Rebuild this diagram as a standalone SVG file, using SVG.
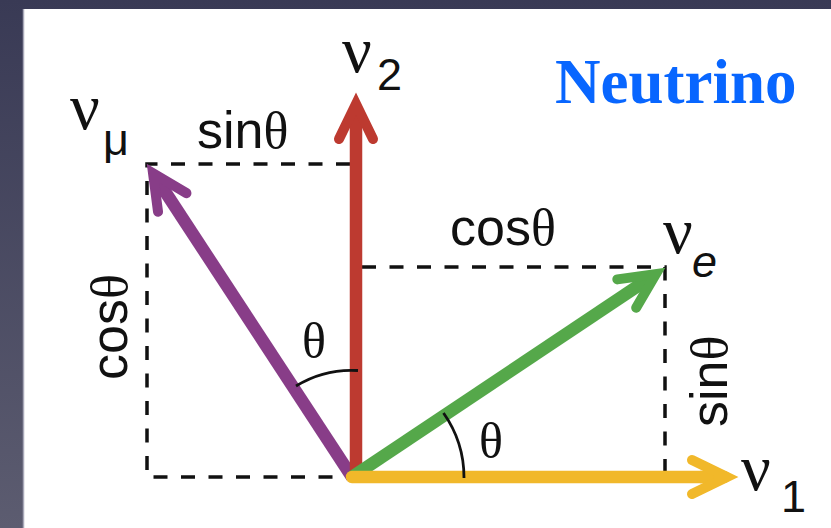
<svg xmlns="http://www.w3.org/2000/svg" width="831" height="528" viewBox="0 0 831 528">
  <defs>
    <linearGradient id="bg" x1="0" y1="0" x2="0" y2="1">
      <stop offset="0" stop-color="#393a55"/>
      <stop offset="1" stop-color="#5c5c70"/>
    </linearGradient>
    <path id="head" d="M-46,-17 L-11,0 L-46,17" fill="none" stroke-width="10" stroke-linecap="round" stroke-linejoin="miter" stroke-miterlimit="10"/>
    <style>
      .dash { fill: none; stroke: #111; stroke-width: 3.5; stroke-dasharray: 14 13.5; }
      .arc { fill: none; stroke: #111; stroke-width: 2.8; }
      .shaft { fill: none; stroke-width: 12.5; }
      .lbl { font-family: "Liberation Sans", Arial, sans-serif; font-size: 52px; fill: #111; }
      .gr { font-family: "Liberation Serif", "Times New Roman", serif; }
      .nu { font-family: "Liberation Serif", "Times New Roman", serif; font-size: 66px; fill: #111; }
      .sub { font-family: "Liberation Sans", Arial, sans-serif; font-size: 45px; fill: #111; }
      .th { font-family: "Liberation Serif", "Times New Roman", serif; font-size: 50px; fill: #111; }
    </style>
  </defs>

  <rect x="0" y="0" width="831" height="528" fill="url(#bg)"/>
  <rect x="23" y="9" width="808" height="519" fill="#ffffff"/>
  <line x1="23.5" y1="9" x2="23.5" y2="528" stroke="#a8a8b8" stroke-width="1.5"/>

  <g id="connectors">
    <path class="dash" d="M350,164 L147,164 L147,477 L350,477"/>
    <path class="dash" d="M362,267 L665,267 L665,477"/>
  </g>

  <g id="nu-mu-vector" stroke="#883d88" fill="none">
    <line class="shaft" x1="352" y1="477" x2="155.2" y2="176.5"/>
    <use href="#head" transform="translate(147,164) rotate(-123.3)"/>
  </g>
  <g id="nu2-vector" stroke="#bd3a30" fill="none">
    <line class="shaft" x1="356" y1="477" x2="356" y2="107"/>
    <use href="#head" transform="translate(356,93) rotate(-90)"/>
  </g>
  <g id="nue-vector" stroke="#55a84a" fill="none">
    <line class="shaft" x1="352" y1="477" x2="652.5" y2="276.3"/>
    <use href="#head" transform="translate(665,268) rotate(-33.7)"/>
  </g>
  <g id="nu1-vector" stroke="#f1b82a" fill="none">
    <line class="shaft" x1="352" y1="477" x2="724" y2="477" stroke-linecap="round"/>
    <line class="shaft" x1="700" y1="477" x2="724" y2="477"/>
    <use href="#head" transform="translate(738,477)"/>
  </g>

  <g id="angles">
    <path class="arc" d="M358,370.5 A106,106 0 0,0 296,386"/>
    <path class="arc" d="M443.5,413 A112,112 0 0,1 464,478"/>
    <text class="th" x="314" y="358" text-anchor="middle">θ</text>
    <text class="th" x="491" y="458" text-anchor="middle">θ</text>
  </g>

  <g id="labels">
    <text class="lbl" x="197" y="148">sin<tspan class="gr">θ</tspan></text>
    <text class="lbl" x="450" y="245">cos<tspan class="gr">θ</tspan></text>
    <text class="lbl" transform="translate(127,380) rotate(-90)">cos<tspan class="gr">θ</tspan></text>
    <text class="lbl" transform="translate(727,427) rotate(-90)">sin<tspan class="gr">θ</tspan></text>
  </g>

  <g id="nu2-label">
    <text class="nu" x="342" y="72">ν</text>
    <text class="sub" x="377" y="90">2</text>
  </g>
  <g id="numu-label">
    <text class="nu" x="70" y="129">ν</text>
    <text class="sub gr" x="103" y="155">μ</text>
  </g>
  <g id="nue-label">
    <text class="nu" x="663" y="253">ν</text>
    <text class="sub" x="692" y="277" font-style="italic" font-size="50">e</text>
  </g>
  <g id="nu1-label">
    <text class="nu" x="741" y="490">ν</text>
    <text class="sub" x="781" y="512">1</text>
  </g>

  <g id="title">
    <text x="555" y="103" font-family="'Liberation Serif', 'Times New Roman', serif" font-weight="bold" font-size="63" fill="#0866ff">Neutrino</text>
  </g>
</svg>
